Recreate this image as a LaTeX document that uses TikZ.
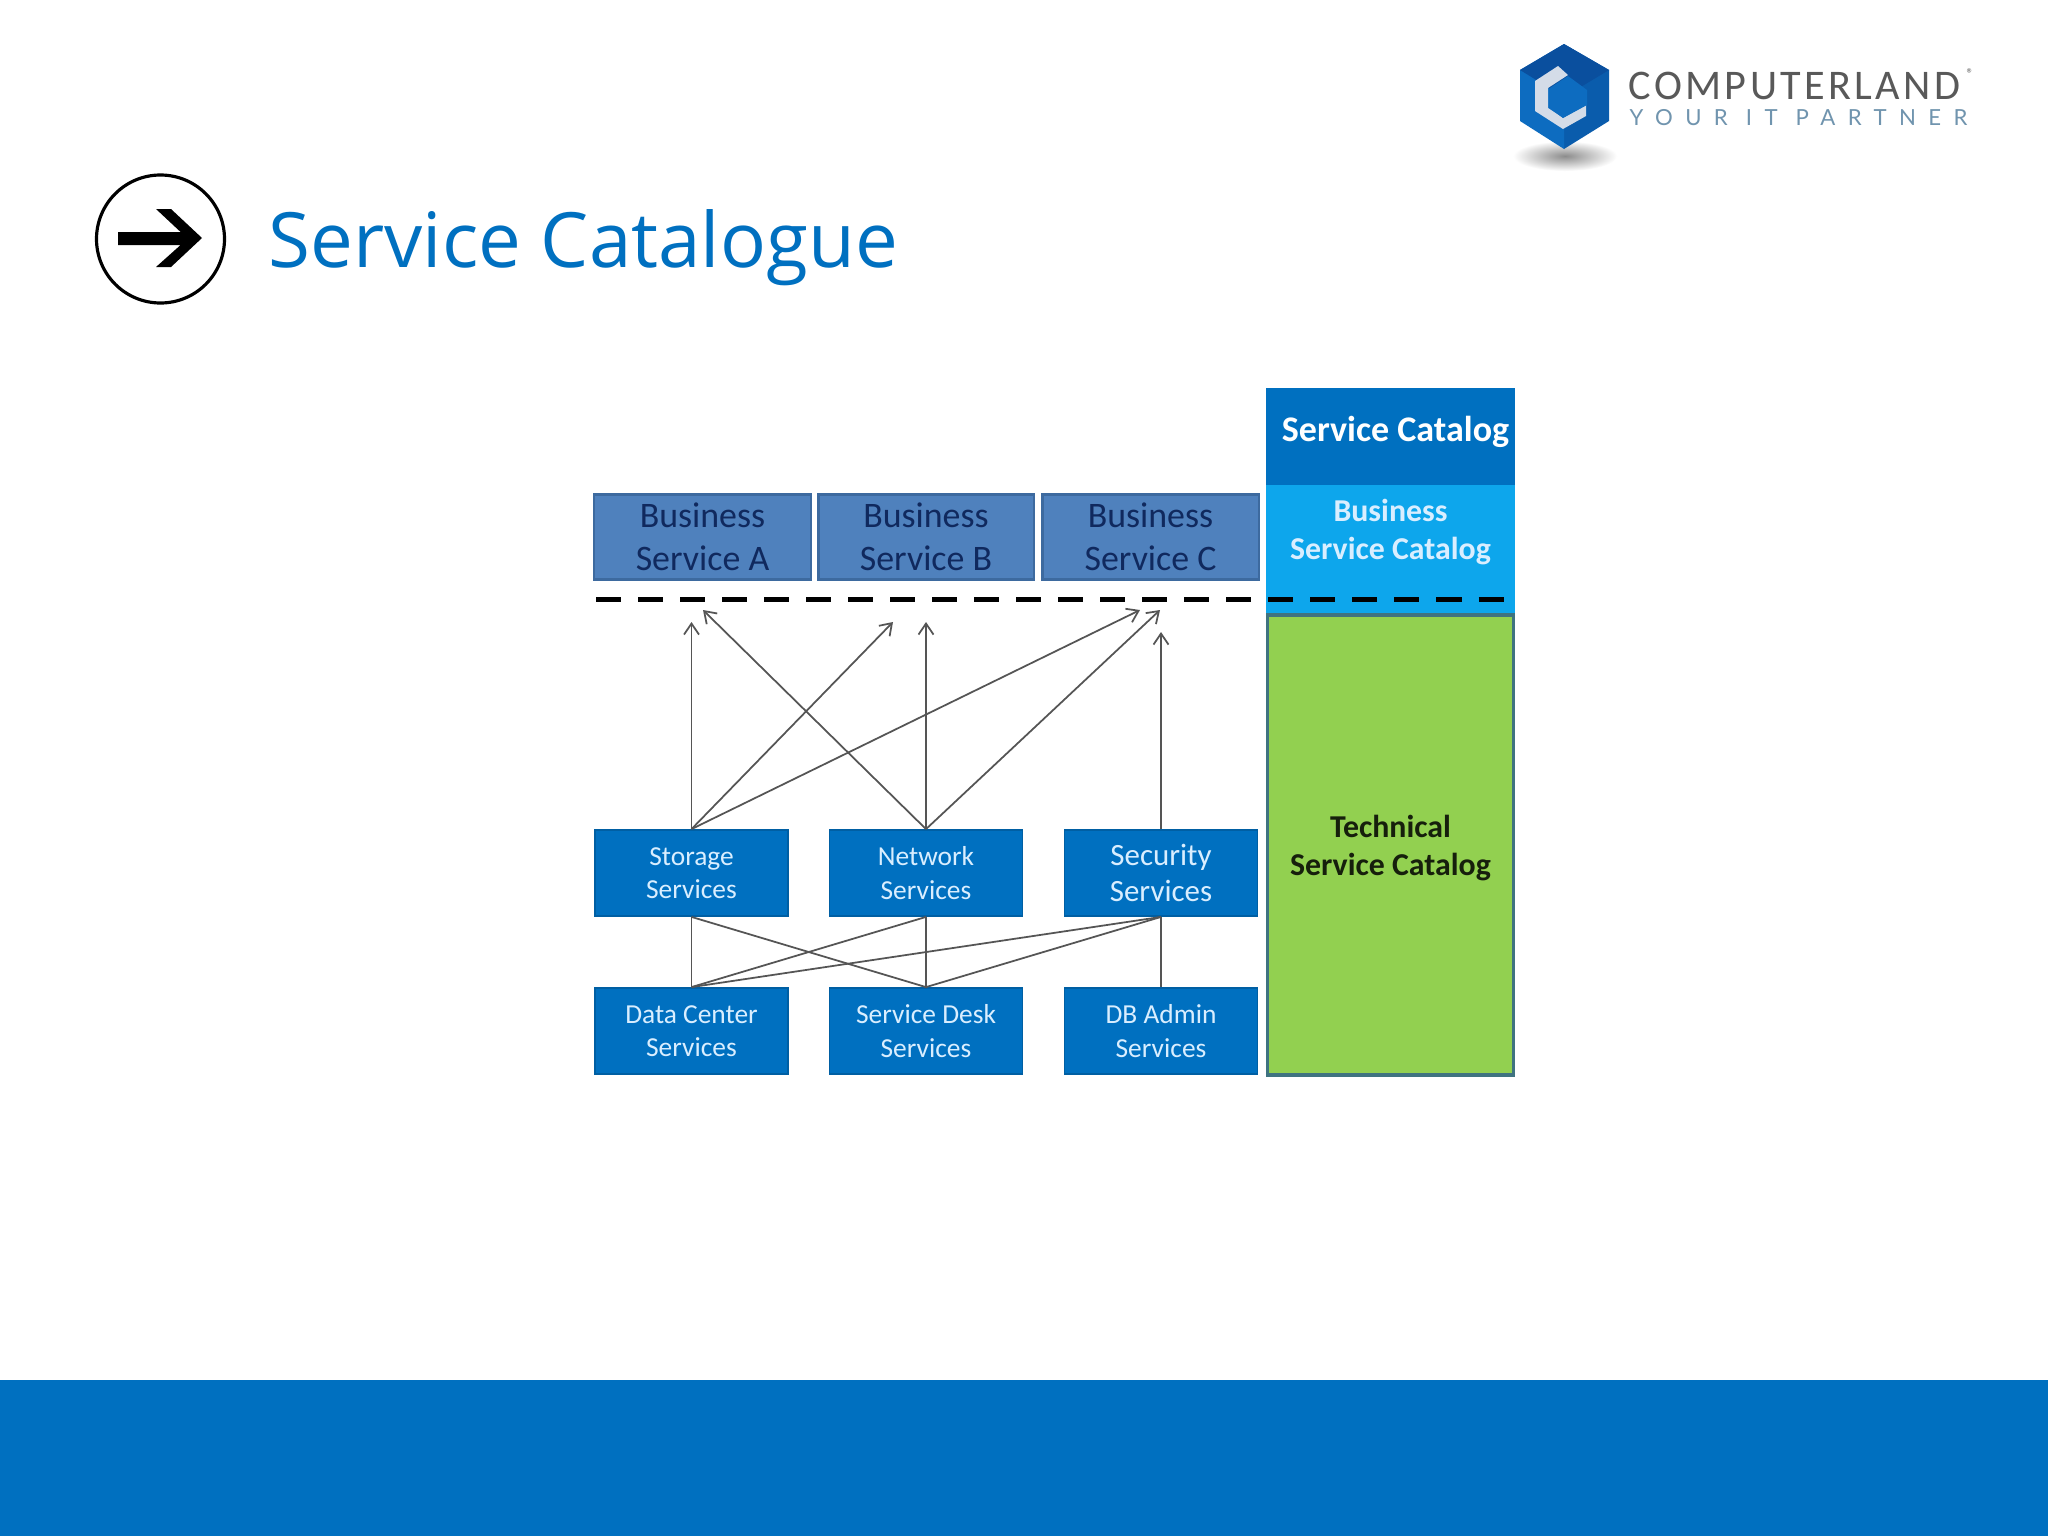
\documentclass[tikz,border=0pt]{standalone}
\usepackage{fontspec}
\setmainfont{Carlito}
\newfontfamily\titlefont{Open Sans}
\newfontfamily\logofont[LetterSpace=8]{Carlito}
\newfontfamily\logosub[LetterSpace=56]{Lato}
\usetikzlibrary{arrows.meta}
\definecolor{brand}{HTML}{0070C0}
\definecolor{bizfill}{HTML}{4F81BD}
\definecolor{bizline}{HTML}{3D6A9F}
\definecolor{navy}{HTML}{10295E}
\definecolor{pale}{HTML}{D9EEFF}
\definecolor{sky}{HTML}{0DA6EC}
\definecolor{leaf}{HTML}{92D050}
\definecolor{leafline}{HTML}{3F7380}
\definecolor{wire}{HTML}{555555}
\definecolor{darkface}{HTML}{0A4F9E}
\definecolor{midface}{HTML}{0D6CC0}
\definecolor{sideface}{HTML}{0A5CAC}
\definecolor{cgrey}{HTML}{D4DCE8}
\tikzset{
  x=0.01cm,y=-0.01cm,
  bizbox/.style={draw=bizline,line width=0.6pt,fill=bizfill,text=navy,inner sep=0pt,align=center,
     font=\fontsize{10.2}{12.2}\selectfont},
  techbox/.style={draw=brand!85!black,line width=0.5pt,fill=brand,text=pale,inner sep=0pt,align=center,minimum width=1.93cm,minimum height=0.86cm,
     font=\fontsize{7.8}{9.5}\selectfont},
  colbox/.style={inner sep=0pt,align=center,minimum width=2.49cm,font=\bfseries\fontsize{9.05}{10.8}\selectfont},
  link/.style={draw=wire,line width=0.5pt},
  uplink/.style={link,-{Straight Barb[length=1.1mm,width=1.5mm]}},
}
\begin{document}
\begin{tikzpicture}
\useasboundingbox (0,0) rectangle (2048,1536);
\fill[white] (0,0) rectangle (2048,1536);
% footer band
\fill[brand] (0,1380) rectangle (2048,1536);
% title
\draw[black,line width=0.9pt] (160.5,239) circle (64);
\fill[black] (118,232) -- (180.6,232) -- (156,209) -- (171,209) -- (202,238) -- (171,267) -- (156,267) -- (180.6,245) -- (118,245) -- cycle;
\node[anchor=base west,inner sep=0pt,text=brand,font=\titlefont\fontsize{21.7}{25}\selectfont] (title) at (268,267) {Service Catalogue};
% logo
\shade[inner color=black!45,outer color=white] (1565,156) ellipse (52 and 15);
\fill[sideface] (1564,44) -- (1609,70) -- (1609,121) -- (1564,149) -- cycle;
\fill[midface] (1564,44) -- (1520,70) -- (1520,121) -- (1564,149) -- cycle;
\fill[darkface] (1564,44) -- (1609,70) -- (1564,97) -- (1520,70) -- cycle;
\fill[cgrey] (1558,66) -- (1568,75) -- (1548,88) -- (1548,108) -- (1563,118) -- (1586,105) -- (1586,116) -- (1563,129) -- (1535,111) -- (1535,81) -- cycle;
\fill[midface] (1550,88) -- (1568,76) -- (1587,90) -- (1587,105) -- (1563,118) -- (1550,108) -- cycle;
\node[anchor=base west,inner sep=0pt,text=black!65,font=\logofont\fontsize{12}{13}\selectfont] (brandname) at (1628,99) {COMPUTERLAND};
\node[anchor=base west,inner sep=0pt,text=black!60,font=\fontsize{4}{4}\selectfont] (brandmark) at (1966,78) {®};
\node[anchor=base west,inner sep=0pt,text=brand!40!gray!80,font=\logosub\fontsize{6.3}{7}\selectfont] (brandtag) at (1629,125) {YOUR IT PARTNER};
% business services
\node[bizbox,minimum width=2.16cm,minimum height=0.85cm] (bsa) at (702.5,537) {Business\\Service A};
\node[bizbox,minimum width=2.15cm,minimum height=0.85cm] (bsb) at (926,537) {Business\\Service B};
\node[bizbox,minimum width=2.16cm,minimum height=0.85cm] (bsc) at (1150.5,537) {Business\\Service C};
% catalog column
\node[colbox,fill=brand,text=white,minimum height=0.97cm,text depth=0.15cm,font=\bfseries\fontsize{10.25}{12}\selectfont] (cathead) at (1390.5,436.5) {\hspace{0.1cm}Service Catalog};
\node[colbox,fill=sky,text=pale,minimum height=1.29cm,text depth=0.40cm] (catbiz) at (1390.5,549.5) {Business\\Service Catalog};
\node[colbox,draw=leafline,line width=1pt,fill=leaf,text=black!85!leaf,minimum width=2.46cm,minimum height=4.6cm,text depth=0cm] (cattech) at (1390.5,845) {Technical\\Service Catalog};
% dashed divider
\coordinate (dashL) at (596,599);
\coordinate (dashR) at (1505,599);
\draw[black,line width=0.05cm,dash pattern=on 0.25cm off 0.17cm] (dashL) -- (dashR);
% technical services
\node[techbox] (stor) at (691.5,873) {Storage\\Services};
\node[techbox] (netw) at (926,873) {Network\\Services};
\node[techbox,font=\fontsize{8.8}{10.4}\selectfont] (secu) at (1161,873) {Security\\Services};
\node[techbox] (data) at (691.5,1031) {Data Center\\Services};
\node[techbox] (desk) at (926,1031) {Service Desk\\Services};
\node[techbox] (dbad) at (1161,1031) {DB Admin\\Services};
% arrow end points
\coordinate (tipA) at (691.5,622);
\coordinate (tipB) at (893,622);
\coordinate (tipC) at (1140,610);
\coordinate (tipD) at (703,610);
\coordinate (tipE) at (926,622);
\coordinate (tipF) at (1160,610);
\coordinate (tipG) at (1161,632);
\draw[uplink] (stor.north) -- (tipA);
\draw[uplink] (stor.north) -- (tipB);
\draw[uplink] (stor.north) -- (tipC);
\draw[uplink] (netw.north) -- (tipD);
\draw[uplink] (netw.north) -- (tipE);
\draw[uplink] (netw.north) -- (tipF);
\draw[uplink] (secu.north) -- (tipG);
% lower links
\draw[link] (stor.south) -- (data.north);
\draw[link] (stor.south) -- (desk.north);
\draw[link] (netw.south) -- (data.north);
\draw[link] (netw.south) -- (desk.north);
\draw[link] (secu.south) -- (data.north);
\draw[link] (secu.south) -- (desk.north);
\draw[link] (secu.south) -- (dbad.north);
\end{tikzpicture}
\end{document}
